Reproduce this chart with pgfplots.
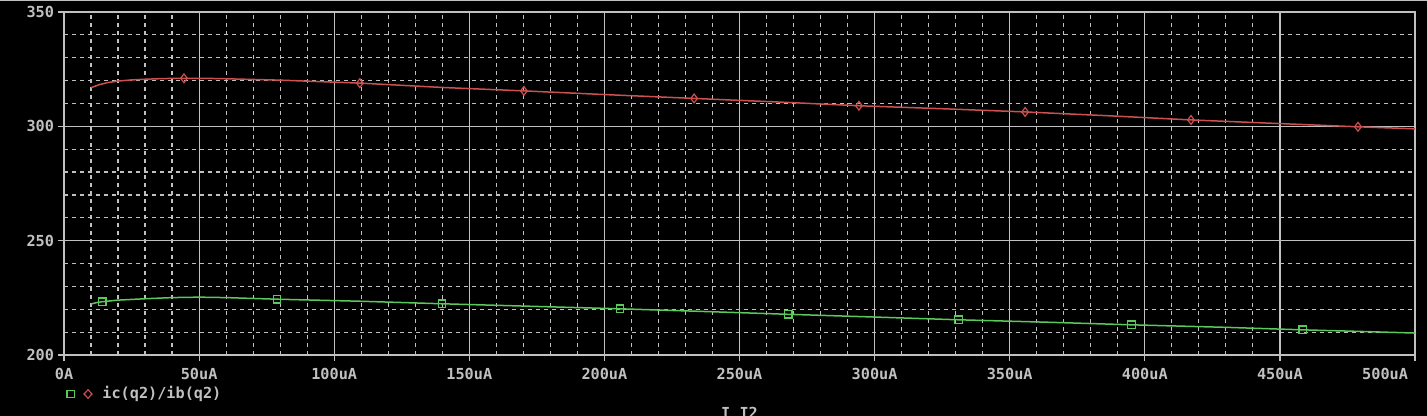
\documentclass[border=0pt]{standalone}
\usepackage{pgfplots}
\pgfplotsset{compat=1.18}
\usepackage{fontspec}
\setmonofont{DejaVu Sans Mono}
\definecolor{axgray}{RGB}{192,192,192}
\definecolor{pred}{RGB}{205,80,80}
\definecolor{pgreen}{RGB}{90,200,90}
\newcommand{\pfont}{\ttfamily\bfseries\fontsize{7.6bp}{9bp}\selectfont}
\begin{document}
\begin{tikzpicture}
\fill[black] (0,0) rectangle (713.5bp,208bp);
\draw[axgray, line width=0.6bp] (0,207.6bp) -- (713.5bp,207.6bp);
\begin{axis}[
  at={(32bp,30.5bp)}, anchor=south west,
  width=675.5bp, height=171.5bp, scale only axis,
  xmin=0, xmax=500, ymin=200, ymax=350,
  xtick={0,50,...,450},
  xticklabels={0A,50uA,100uA,150uA,200uA,250uA,300uA,350uA,400uA,450uA},
  extra x ticks={500}, extra x tick labels={500uA},
  extra x tick style={xticklabel style={anchor=north east}},
  ytick={200,250,300,350}, yticklabels={200,250,300,350},
  minor x tick num=4, minor y tick num=4,
  grid=both,
  major grid style={axgray, solid, line width=0.6bp},
  minor grid style={axgray, dash pattern=on 2bp off 2bp, line width=0.6bp},
  axis line style={axgray, line width=0.7bp},
  tick style={axgray, line width=0.6bp},
  tick align=outside, major tick length=3bp, minor tick length=0pt,
  tick pos=left,
  ticklabel style={font=\pfont, text=axgray},
  yticklabel style={xshift=1.5bp},
  xlabel={I\_I2},
  xlabel style={font=\pfont, text=axgray, at={(axis description cs:0.5,-0.1837)}, anchor=base},
  legend style={at={(0.0015,-0.1137)}, anchor=west, draw=none, fill=black,
     text=axgray, font=\pfont, inner sep=0pt, legend cell align=left},
]
\addlegendimage{legend image code/.code={
  \draw[pgreen,line width=0.6bp] (0bp,-1.9bp) rectangle (3.8bp,1.9bp);
  \draw[pred,line width=0.6bp] (8.5bp,0bp) -- (10.5bp,2.1bp) -- (12.5bp,0bp) -- (10.5bp,-2.1bp) -- cycle;
  \path (15.5bp,0bp);
}}
\addlegendentry{ic(q2)/ib(q2)}
\addplot[pred, line width=0.75bp, forget plot] coordinates {
(10,316.9) (13,318.2) (16,319.1) (20,319.8) (25,320.3) (30,320.6) (37,320.9)
(44.4,321.0) (52,321.0) (60,320.8) (80,320.2) (109.5,318.9) (140,317.0)
(170.2,315.5) (200,313.9) (233.2,312.2) (265,310.6) (294.2,309.0) (325,307.7)
(355.7,306.3) (387,304.6) (417.1,302.8) (450,301.2) (478.9,299.8) (500,298.9)
};
\addplot[pred, only marks, mark=diamond, mark size=2.2bp, mark options={line width=0.6bp}, forget plot] coordinates {
(44.4,321.0) (109.5,318.9) (170.2,315.5) (233.2,312.2) (294.2,309.0)
(355.7,306.3) (417.1,302.8) (478.9,299.8)
};
\addplot[pgreen, line width=0.75bp, forget plot] coordinates {
(10,222.3) (12,222.9) (14.1,223.3) (20,224.0) (30,224.6) (40,225.1) (50,225.3)
(60,225.1) (78.8,224.4) (110,223.5) (139.9,222.4) (170,221.4) (205.8,220.2)
(235,219.1) (268,217.8) (300,216.6) (331,215.4) (365,214.3) (395,213.2)
(430,212.1) (458.5,211.0) (480,210.3) (500,209.6)
};
\addplot[pgreen, only marks, mark=square, mark size=1.9bp, mark options={line width=0.6bp}, forget plot] coordinates {
(14.1,223.3) (78.8,224.4) (139.9,222.4) (205.8,220.2) (268,217.8)
(331,215.4) (395,213.2) (458.5,211.0)
};
\end{axis}
\pgfresetboundingbox
\useasboundingbox (0,0) rectangle (713.5bp,208bp);
\end{tikzpicture}
\end{document}
